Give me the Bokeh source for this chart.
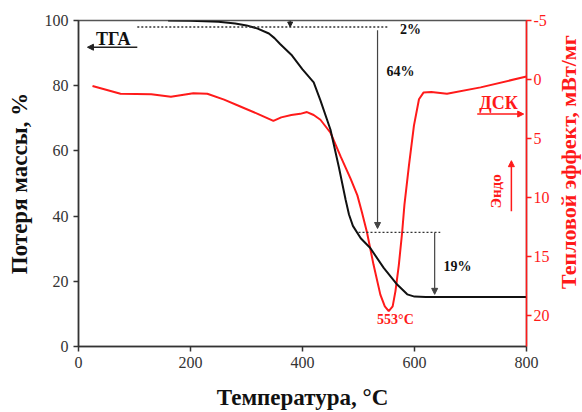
import math
from bokeh.plotting import figure
from bokeh.layouts import row
from bokeh.models import (Range1d, LinearAxis, FixedTicker, Label, Arrow,
                          NormalHead)
from bokeh.embed import file_html
from bokeh.resources import INLINE

# ---- data ----
tga_temp = [160, 200, 250, 280, 300, 320, 340, 350, 360, 380, 400, 420, 432,
            450, 465, 477, 483, 490, 504, 521, 545, 569, 587, 600, 620, 800]
tga_mass = [100, 99.9, 99.6, 99.1, 98.5, 97.5, 96, 94.6, 92.8, 89.5, 85, 81,
            75.5, 66.5, 55, 45, 40.5, 37, 33.2, 30.2, 24.1, 19, 16, 15.3,
            15.2, 15.2]

dsc_temp = [25, 75, 130, 165, 205, 230, 260, 290, 320, 348, 362, 380, 396,
            408, 420, 432, 450, 468, 486, 498, 506, 515, 527, 539, 547, 554,
            561, 566, 572, 578, 582, 590, 599, 608, 616, 630, 658, 718, 800]
dsc_heat = [0.55, 1.2, 1.25, 1.45, 1.15, 1.2, 1.7, 2.3, 2.9, 3.5, 3.2, 3.0,
            2.9, 2.75, 3.0, 3.4, 4.5, 6.5, 8.4, 9.8, 11.2, 12.9, 15.7, 18.2,
            19.2, 19.6, 19.2, 17.9, 15.7, 12.9, 10.6, 7.3, 3.9, 1.66, 1.1,
            1.05, 1.2, 0.66, -0.26]

x_ticks = [0, 200, 400, 600, 800]
y_ticks = [0, 20, 40, 60, 80, 100]
y2_ticks = [-5, 0, 5, 10, 15, 20]

# step annotations (levels of mass, %)
step1_level = 98.0
step2_level = 35.0
final_level = 15.2
peak_temp = 553

FONT = "Liberation Serif"
RED = "#ff1a1a"

p = figure(width=552, height=412, x_range=Range1d(0, 800),
           y_range=Range1d(0, 100), output_backend="svg",
           toolbar_location=None, min_border_left=78, min_border_right=26,
           min_border_top=20, min_border_bottom=63)
p.background_fill_color = "white"
p.border_fill_color = "white"
p.xgrid.visible = False
p.ygrid.visible = False
p.outline_line_color = "#555555"
p.outline_line_width = 1.5

p.extra_y_ranges = {"dsc": Range1d(start=22.59, end=-5)}

def style_axis(ax, color):
    ax.axis_line_color = color
    ax.axis_line_width = 1.5
    ax.major_tick_line_color = color
    ax.major_tick_line_width = 1.5
    ax.major_tick_out = 5
    ax.major_tick_in = 0
    ax.minor_tick_line_color = None
    ax.major_label_text_font = FONT
    ax.major_label_text_font_size = "16px"
    ax.major_label_text_color = color
    ax.axis_label_text_font = FONT
    ax.axis_label_text_font_style = "bold"
    ax.axis_label_text_font_size = "23px"
    ax.axis_label_text_color = color

xa = p.xaxis[0]
style_axis(xa, "#333333")
xa.ticker = FixedTicker(ticks=x_ticks)
xa.axis_label = "Температура, °C"
xa.axis_label_standoff = 14
xa.axis_label_text_color = "#111111"

ya = p.yaxis[0]
style_axis(ya, "#333333")
ya.ticker = FixedTicker(ticks=y_ticks)
ya.axis_label = "Потеря массы, %"
ya.axis_label_standoff = 10
ya.axis_label_text_color = "#111111"

ra = LinearAxis(y_range_name="dsc", ticker=FixedTicker(ticks=y2_ticks))
style_axis(ra, RED)
ra.major_label_overrides = {-5: "-5"}
ra.major_label_standoff = 2
p.add_layout(ra, "right")

# curves
p.line(dsc_temp, dsc_heat, y_range_name="dsc", line_color=RED, line_width=2)
p.line(tga_temp, tga_mass, line_color="#111111", line_width=2)

# dotted guide lines
p.line([105, 552], [step1_level, step1_level], line_color="#333333",
       line_width=1.3, line_dash="2 2")
p.line([500, 646], [step2_level, step2_level], line_color="#333333",
       line_width=1.3, line_dash="2 2")

def arrow(x0, y0, x1, y1, color="#444444", size=6, width=1.2):
    p.add_layout(Arrow(end=NormalHead(size=size, fill_color=color,
                                      line_color=color),
                       x_start=x0, y_start=y0, x_end=x1, y_end=y1,
                       line_color=color, line_width=width))

arrow(378, 100, 378, step1_level, color="#222222", size=5)
arrow(534, 97, 534, 36.2)
arrow(636, step2_level, 636, final_level + 0.8)

def label(fig, x, y, text, size, color="#111111", angle=0):
    fig.add_layout(Label(x=x, y=y, text=text, text_font=FONT,
                         text_font_style="bold", text_font_size=size,
                         text_color=color, text_align="center",
                         text_baseline="middle", angle=angle))

label(p, 593, 97.3, "2%", "14px")
label(p, 575, 84.5, "64%", "14px")
label(p, 677, 24.4, "19%", "14px")
label(p, 566, 8.3, f"{peak_temp}°C", "14px", color=RED)

# ТГА marker
label(p, 62, 94.3, "ТГА", "18px")
arrow(105, 91.8, 16, 91.8, color="#222222", size=6, width=1.5)

# ДСК marker
label(p, 750, 74.6, "ДСК", "18px", color=RED)
arrow(712, 71.3, 795, 71.3, color=RED, size=6, width=1.5)

# Эндо marker
label(p, 745, 47.6, "Эндо", "15px", color=RED, angle=math.pi / 2)
arrow(773, 41.5, 773, 57, color=RED, size=6, width=1.5)

# right axis title in a narrow strip (reads bottom-to-top as in the reference)
side = figure(width=30, height=412, x_range=Range1d(0, 30),
              y_range=Range1d(0, 412), output_backend="svg",
              toolbar_location=None, x_axis_location=None,
              y_axis_location=None, min_border=0, min_border_left=0,
              min_border_right=0, min_border_top=0, min_border_bottom=0)
side.outline_line_color = None
side.xgrid.visible = False
side.ygrid.visible = False
side.border_fill_color = "white"
side.background_fill_color = "white"
label(side, 16, 233, "Тепловой эффект, мВт/мг", "22px", color=RED,
      angle=math.pi / 2)

layout = row(p, side, spacing=0)
open("out.html", "w").write(file_html(layout, INLINE))
